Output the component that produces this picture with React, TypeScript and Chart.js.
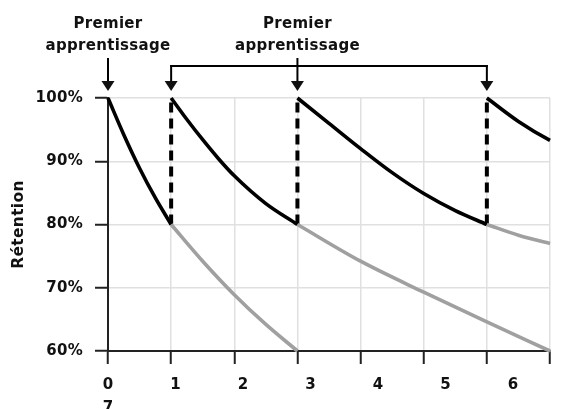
import React, { useEffect, useRef } from "react";
import { Chart, registerables } from "chart.js";

Chart.register(...registerables);

// ---- data ----
const xTickLabels = ["0", "1", "2", "3", "4", "5", "6", "7"];
const yTickValues = [60, 70, 80, 90, 100];
const annotationLines = ["Premier", "apprentissage"];
const firstLearningDay = 0;
const bracketLabelDay = 3;
const reviewDays = [1, 3, 6];

// black (after review) segments
const black1X = [0, 0.25, 0.5, 0.75, 1];
const black1Y = [100, 94.2, 88.9, 84.2, 80];
const black2X = [1, 1.25, 1.5, 1.75, 2, 2.5, 3];
const black2Y = [100, 96.6, 93.4, 90.4, 87.7, 83.3, 80];
const black3X = [3, 3.5, 4, 4.5, 5, 5.5, 6];
const black3Y = [100, 96, 92, 88.2, 84.9, 82.2, 80];
const black4X = [6, 6.5, 7, 7.17];
const black4Y = [100, 96.3, 93.3, 92.5];

// gray (forgetting without review) segments
const gray1X = [1, 1.5, 2, 2.5, 3];
const gray1Y = [80, 74.2, 68.9, 64.2, 60];
const gray2X = [3, 4, 5, 6, 7];
const gray2Y = [80, 74.2, 69.3, 64.6, 60];
const gray3X = [6, 6.5, 7, 7.17];
const gray3Y = [80, 78.3, 77, 76.6];

// dashed review jumps
const reviewLow = 80;
const reviewHigh = 100;

const FONT = "'DejaVu Sans', sans-serif";
const TEXT = "#111";

const pts = (xs: number[], ys: number[]) => xs.map((x, i) => ({ x, y: ys[i] }));

export default function App() {
  const ref = useRef<HTMLCanvasElement | null>(null);

  useEffect(() => {
    if (!ref.current) return;

    const curve = (xs: number[], ys: number[], color: string) => ({
      data: pts(xs, ys),
      borderColor: color,
      borderWidth: 3.6,
      pointRadius: 0,
      cubicInterpolationMode: "monotone" as const,
      fill: false,
      clip: false as any,
      borderCapStyle: "butt" as const,
    });

    const datasets: any[] = [
      curve(gray1X, gray1Y, "#a0a0a0"),
      curve(gray2X, gray2Y, "#a0a0a0"),
      curve(gray3X, gray3Y, "#a0a0a0"),
      curve(black1X, black1Y, "#000"),
      curve(black2X, black2Y, "#000"),
      curve(black3X, black3Y, "#000"),
      curve(black4X, black4Y, "#000"),
      ...reviewDays.map((d) => ({
        data: [
          { x: d, y: reviewLow },
          { x: d, y: reviewHigh },
        ],
        borderColor: "#000",
        borderWidth: 4,
        borderDash: [10, 6],
        pointRadius: 0,
        fill: false,
      })),
    ];

    const spacing = {
      id: "spacing",
      beforeDraw(chart: any) {
        (chart.ctx as any).letterSpacing = "0.3px";
      },
    };

    const annotations = {
      id: "annotations",
      afterDraw(chart: any) {
        const ctx = chart.ctx as CanvasRenderingContext2D;
        const xs = chart.scales.x;
        const top = chart.chartArea.top;
        ctx.save();
        (ctx as any).letterSpacing = "0.3px";
        ctx.fillStyle = TEXT;
        ctx.strokeStyle = "#000";
        ctx.lineWidth = 2;
        ctx.font = `bold 15px ${FONT}`;
        ctx.textAlign = "center";
        ctx.textBaseline = "alphabetic";

        const tipY = top - 7;
        const arrow = (x: number, y0: number) => {
          ctx.beginPath();
          ctx.moveTo(x, y0);
          ctx.lineTo(x, tipY - 8);
          ctx.stroke();
          ctx.beginPath();
          ctx.moveTo(x - 6.5, tipY - 10);
          ctx.lineTo(x + 6.5, tipY - 10);
          ctx.lineTo(x, tipY);
          ctx.closePath();
          ctx.fill();
        };

        const x0 = xs.getPixelForValue(firstLearningDay);
        const xl = xs.getPixelForValue(bracketLabelDay);
        [x0, xl].forEach((x) => {
          ctx.fillText(annotationLines[0], x, 28);
          ctx.fillText(annotationLines[1], x, 50);
          arrow(x, 58);
        });

        const xa = xs.getPixelForValue(reviewDays[0]);
        const xb = xs.getPixelForValue(reviewDays[reviewDays.length - 1]);
        ctx.beginPath();
        ctx.moveTo(xa - 1, 66);
        ctx.lineTo(xb + 1, 66);
        ctx.stroke();
        arrow(xa, 65);
        arrow(xb, 65);
        ctx.restore();
      },
    };

    const chart = new Chart(ref.current, {
      type: "line",
      data: { datasets },
      plugins: [spacing, annotations],
      options: {
        animation: false,
        responsive: true,
        maintainAspectRatio: false,
        layout: { padding: { left: 0, top: 98, right: 11, bottom: 0 } },
        plugins: { legend: { display: false }, tooltip: { enabled: false } },
        scales: {
          x: {
            type: "linear",
            position: "bottom",
            weight: 0,
            min: 0,
            max: xTickLabels.length - 1,
            afterBuildTicks: (s: any) => {
              s.ticks = xTickLabels.map((_, i) => ({ value: i }));
            },
            ticks: { display: false },
            grid: {
              color: "#e0e0e0",
              lineWidth: 1.5,
              tickColor: "#222",
              tickWidth: 2,
              tickLength: 13,
            },
            border: { color: "#222", width: 2 },
            afterFit: (s: any) => {
              s.height = 13;
            },
          },
          x2: {
            type: "linear",
            position: "bottom",
            weight: 1,
            min: 0,
            max: 6.548,
            afterBuildTicks: (s: any) => {
              s.ticks = xTickLabels.slice(0, -1).map((_, i) => ({ value: i }));
            },
            ticks: {
              autoSkip: false,
              maxRotation: 0,
              padding: 9,
              color: TEXT,
              font: { family: FONT, size: 15, weight: "bold", lineHeight: 1.55 },
              callback: (_v: any, i: number) =>
                i === 0 ? [xTickLabels[0], xTickLabels[xTickLabels.length - 1]] : xTickLabels[i],
            },
            grid: { display: false, drawTicks: false },
            border: { display: false },
            afterFit: (s: any) => {
              s.height = 45;
            },
          },
          y: {
            type: "linear",
            min: yTickValues[0],
            max: yTickValues[yTickValues.length - 1],
            afterBuildTicks: (s: any) => {
              s.ticks = yTickValues.map((v) => ({ value: v }));
            },
            ticks: {
              padding: 12,
              color: TEXT,
              font: { family: FONT, size: 15, weight: "bold" },
              callback: (v: any) => `${v}%`,
            },
            grid: {
              color: "#e0e0e0",
              lineWidth: 1.5,
              tickColor: "#222",
              tickWidth: 2,
              tickLength: 13,
            },
            border: { color: "#222", width: 2 },
            title: {
              display: true,
              text: "Rétention",
              color: TEXT,
              font: { family: FONT, size: 15.5, weight: "bold" },
              padding: { top: 10, bottom: 4 },
            },
            afterFit: (s: any) => {
              s.width = 108;
            },
          },
        },
      } as any,
    });

    return () => chart.destroy();
  }, []);

  return (
    <div style={{ position: "absolute", left: 0, top: 0, width: 561, height: 409, background: "#fff" }}>
      <canvas ref={ref} />
    </div>
  );
}
